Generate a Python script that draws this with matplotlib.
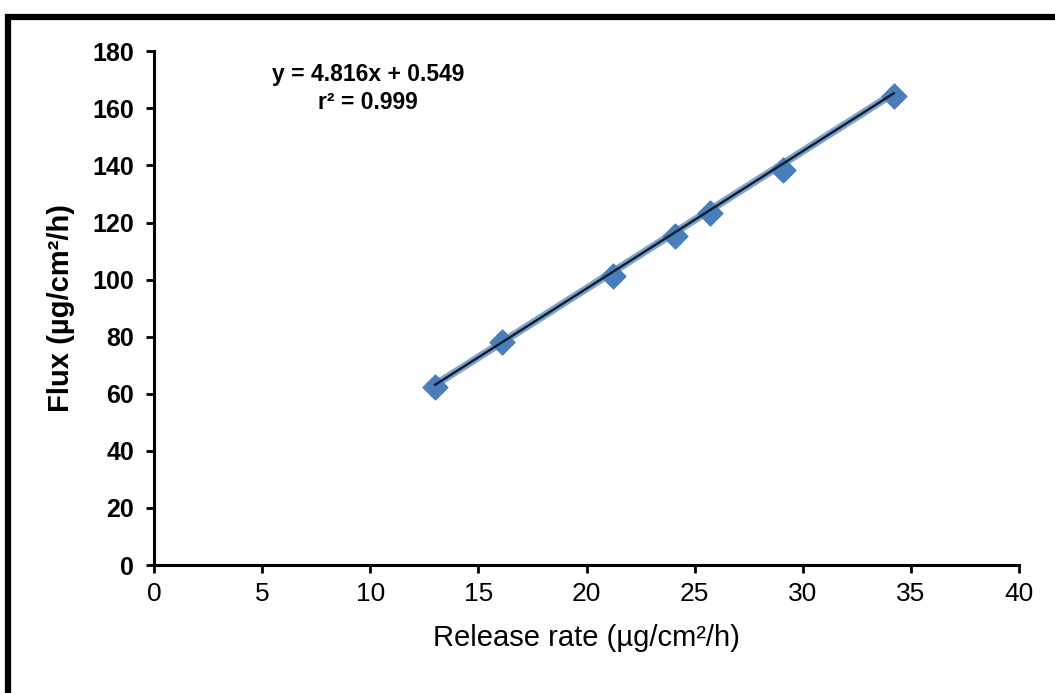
import matplotlib.pyplot as plt
from matplotlib.patches import Rectangle

# data
release_rate = [13.0, 16.1, 21.2, 24.1, 25.7, 29.1, 34.2]
flux = [62.3, 78.1, 101.2, 115.2, 123.3, 138.3, 164.2]
slope = 4.816
intercept = 0.549
r_squared = 0.999

x_ticks = list(range(0, 45, 5))
y_ticks = list(range(0, 200, 20))

plt.rcParams['font.family'] = ['Liberation Sans', 'DejaVu Sans']

fig = plt.figure(figsize=(10.55, 6.93), dpi=100)
ax = fig.add_axes([0.146, 0.1847, 0.82, 0.7413])

# outer frame (only top and left edges visible in the reference)
fig.patches.append(Rectangle((0.008, -0.1), 1.2, 1.0755, transform=fig.transFigure,
                             fill=False, edgecolor='black', linewidth=4.5, clip_on=False))

ax.scatter(release_rate, flux, marker='D', s=160, color='#4a7ebb', zorder=3)

fit_x = [min(release_rate), max(release_rate)]
fit_y = [slope * v + intercept for v in fit_x]
ax.plot(fit_x, fit_y, color='#4a7ebb', linewidth=5.5, alpha=0.7, zorder=4)
ax.plot(fit_x, fit_y, color='#10202e', linewidth=1.8, zorder=5)

ax.text(9.9, 167.0, f'y = {slope}x + {intercept}\nr² = {r_squared}', ha='center', va='center',
        fontsize=16.5, fontweight='bold', linespacing=1.3)

ax.set_xlim(0, 40)
ax.set_ylim(0, 180)
ax.set_xticks(x_ticks)
ax.set_yticks(y_ticks)
ax.spines['top'].set_visible(False)
ax.spines['right'].set_visible(False)
ax.spines['left'].set_linewidth(2.2)
ax.spines['bottom'].set_linewidth(2.2)
ax.tick_params(axis='both', direction='out', length=5.5, width=2, color='black')
ax.tick_params(axis='x', labelsize=19, pad=7)
ax.tick_params(axis='y', labelsize=18, pad=9)
for lab in ax.get_yticklabels():
    lab.set_fontweight('bold')

ax.set_xlabel('Release rate (µg/cm²/h)', fontsize=21, labelpad=13)
ax.set_ylabel('Flux (µg/cm²/h)', fontsize=21, fontweight='bold', labelpad=12)

fig.savefig('out.png', dpi=100)
